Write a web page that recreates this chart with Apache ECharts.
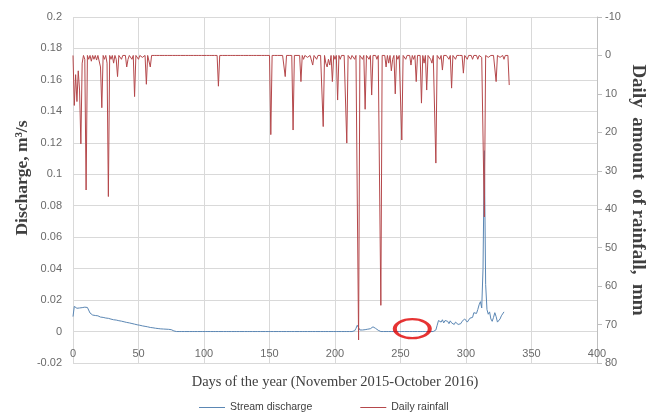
<!DOCTYPE html>
<html><head><meta charset="utf-8">
<script src="https://cdn.jsdelivr.net/npm/echarts@6/dist/echarts.min.js"></script>
<style>html,body{margin:0;padding:0;background:#fff}#c{width:660px;height:413px}</style>
</head><body><div id="c"></div>
<script>
// Daily rainfall (mm), day 0 .. 333 (index = day of the year)
const rainfall = [
  0, 13, 5, 12, 4, 9, 23, 2, 0, 1,          // 0
  35, 0, 1, 0, 1.5, 0, 1, 0, 1.2, 0,        // 10
  0.5, 3, 13.6, 0, 1, 0, 2, 36.7, 0, 1,     // 20
  0, 2, 0, 1, 5.5, 0, 0, 1, 0, 0.5,         // 30
  0, 3, 1, 0, 0, 1, 0, 10.7, 0, 0,          // 40
  1, 0, 0, 0.5, 0, 0, 7.5, 0, 0, 3,         // 50
  0, 0, 0, 0, 0, 0, 0, 0, 0, 0,             // 60
  0, 0, 0, 0, 0, 0, 0, 0, 0, 0,             // 70
  0, 0, 0, 0, 0, 0, 0, 0, 0, 0,             // 80
  0, 0, 0, 0, 0, 0, 0, 0, 0, 0,             // 90
  0, 0, 0, 0, 0, 0, 0, 0, 0, 0,             // 100
  0, 8, 0, 0, 0, 0, 0, 0, 0, 0,             // 110
  0, 0, 0, 0, 0, 0, 0, 0, 0, 0,             // 120
  0, 0, 0, 0, 0, 0, 0, 0, 0, 0,             // 130
  0, 0, 0, 0, 0, 0, 0, 0, 0, 0,             // 140
  0, 20.6, 0, 0, 0, 0, 0, 0, 0, 0,          // 150
  0, 0, 5.5, 0, 0, 0, 0, 0, 19.4, 0,        // 160
  0, 0, 0, 0, 6.8, 0, 1, 0, 0, 0.5,         // 170
  0.5, 0, 0, 2.5, 0, 0, 1, 0, 0, 0,         // 180
  0.5, 18.5, 0, 2, 3, 1, 2.5, 0, 6.8, 0,    // 190
  1, 0, 11.6, 0, 1, 0, 0.5, 0, 0, 22.8,     // 200
  0, 0, 1, 0, 0, 1, 0, 0, 74, 0,            // 210
  0, 1, 0, 14, 0, 0, 1, 0, 10.3, 0,         // 220
  0, 0, 1, 0, 0, 65, 0, 0, 0, 3,            // 230
  0, 2, 0, 4, 1, 0, 10, 0, 1, 0,            // 240
  0, 22, 0, 0, 1, 0, 0.5, 0, 2.5, 0,        // 250
  1, 0, 6.8, 0, 0, 0, 12.4, 0, 2, 0,        // 260
  9, 0, 0, 1, 2, 0, 0, 28, 0, 0,            // 270
  1, 0, 3.8, 0, 0.5, 0, 0, 1, 0, 8.5,       // 280
  0, 0, 1, 0, 0.5, 0, 0, 0, 4.6, 0,         // 290
  0, 1, 0, 0.5, 0, 1, 0, 0.5, 0, 1,         // 300
  0, 0, 0.5, 0, 42, 0, 0, 0.5, 0, 0,        // 310
  0, 0, 0, 6.8, 0, 0, 0.5, 0, 0, 1,         // 320
  0, 0, 0, 7.7                              // 330
];

// Stream discharge (m3/s), day 0 .. 329
const discharge = [
  0.0095, 0.016, 0.0152, 0.0148, 0.0155, 0.015, 0.0145, 0.0152, 0.0148, 0.0155,   // 0
  0.015, 0.0153, 0.0157, 0.0118, 0.011, 0.0105, 0.0108, 0.0102, 0.0098, 0.01,     // 10
  0.0095, 0.0092, 0.0096, 0.009, 0.0088, 0.0086, 0.0089, 0.0084, 0.0082, 0.0079,  // 20
  0.0078, 0.0075, 0.0077, 0.0073, 0.0071, 0.0069, 0.0068, 0.0066, 0.0064, 0.0062, // 30
  0.006, 0.0058, 0.0059, 0.0055, 0.0053, 0.0051, 0.0049, 0.0047, 0.0045, 0.0043,  // 40
  0.0042, 0.004, 0.0038, 0.0036, 0.0034, 0.0033, 0.0031, 0.003, 0.0028, 0.0026,   // 50
  0.0025, 0.0024, 0.0022, 0.0021, 0.002, 0.0019, 0.0018, 0.0017, 0.0016, 0.0016,  // 60
  0.0015, 0.0015, 0.0014, 0.0014, 0.0013, 0.0012, 0.0011, 0.0004, 0, 0,           // 70
  0, 0, 0, 0, 0, 0, 0, 0, 0, 0,   // 80
  0, 0, 0, 0, 0, 0, 0, 0, 0, 0,   // 90
  0, 0, 0, 0, 0, 0, 0, 0, 0, 0,   // 100
  0, 0, 0, 0, 0, 0, 0, 0, 0, 0,   // 110
  0, 0, 0, 0, 0, 0, 0, 0, 0, 0,   // 120
  0, 0, 0, 0, 0, 0, 0, 0, 0, 0,   // 130
  0, 0, 0, 0, 0, 0, 0, 0, 0, 0,   // 140
  0, 0, 0, 0, 0, 0, 0, 0, 0, 0,   // 150
  0, 0, 0, 0, 0, 0, 0, 0, 0, 0,   // 160
  0, 0, 0, 0, 0, 0, 0, 0, 0, 0,   // 170
  0, 0, 0, 0, 0, 0, 0, 0, 0, 0,   // 180
  0, 0, 0, 0, 0, 0, 0, 0, 0, 0,   // 190
  0, 0, 0, 0, 0, 0, 0, 0, 0, 0,   // 200
  0, 0, 0, 0, 0, 0.0005, 0.002, 0.004, 0.003, 0.001,                              // 210
  0.0012, 0.001, 0.0015, 0.0012, 0.001, 0.0015, 0.002, 0.0018, 0.0025, 0.003,     // 220
  0.0033, 0.002, 0.0012, 0.0008, 0.0005, 0, 0, 0, 0, 0,                           // 230
  0, 0, 0, 0, 0, 0, 0, 0, 0, 0,   // 240
  0, 0, 0, 0, 0, 0, 0, 0, 0, 0,   // 250
  0, 0, 0, 0, 0, 0, 0, 0, 0, 0,   // 260
  0, 0, 0, 0, 0, 0, 0, 0.001, 0.004, 0.007,                                       // 270
  0.008, 0.006, 0.0075, 0.0055, 0.007, 0.006, 0.0065, 0.005, 0.0068, 0.0055,      // 280
  0.005, 0.0045, 0.006, 0.005, 0.0045, 0.004, 0.005, 0.0065, 0.006, 0.008,        // 290
  0.0075, 0.006, 0.0068, 0.0085, 0.0075, 0.009, 0.012, 0.013, 0.0115, 0.014,      // 300
  0.017, 0.019, 0.015, 0.04, 0.115, 0.03, 0.014, 0.011, 0.0125, 0.008,            // 310
  0.0065, 0.009, 0.012, 0.0095, 0.006, 0.0055, 0.008, 0.01, 0.011, 0.0125         // 320
];

// Highlighted (circled) zero-flow period: [day, discharge]
const highlight = [259, 0.0018];

const seriesNames = ['Stream discharge', 'Daily rainfall'];
const seriesColors = ['#5b87b4', '#b5484b'];
const xTitle = 'Days of the year (November 2015-October 2016)';
const yLeftTitle = 'Discharge, m\u00b3/s';
const yRightTitle = 'Daily  amount  of rainfall,  mm';

const chart = echarts.init(document.getElementById('c'), null, {renderer: 'canvas'});
const labelStyle = {color: '#6a6a6a', fontSize: 11, fontFamily: 'Liberation Sans'};
const serif = 'Liberation Serif';

chart.setOption({
  animation: false,
  backgroundColor: '#fff',
  grid: {left: 73, right: 63, top: 17, bottom: 50, containLabel: false, outerBoundsMode: 'none'},
  legend: {
    data: seriesNames.map((n, i) => ({name: n, itemStyle: {color: seriesColors[i]}})),
    top: 397, left: 194, itemGap: 48,
    icon: 'rect', itemWidth: 26, itemHeight: 1,
    textStyle: {fontSize: 10.5, color: '#404040', fontFamily: 'Liberation Sans'}
  },
  xAxis: {
    type: 'value', min: 0, max: 400, interval: 50, position: 'bottom',
    axisLine: {show: false, onZero: false},
    axisTick: {show: false},
    axisLabel: Object.assign({inside: true, margin: 4}, labelStyle),
    splitLine: {show: true, lineStyle: {color: '#d9d9d9'}},
    name: xTitle, nameLocation: 'middle', nameGap: 12, nameMoveOverlap: false,
    nameTextStyle: {color: '#404040', fontSize: 14.5, fontFamily: serif, verticalAlign: 'top'}
  },
  yAxis: [{
    type: 'value', min: -0.02, max: 0.2, interval: 0.02, position: 'left',
    axisLine: {show: false}, axisTick: {show: false},
    axisLabel: Object.assign({margin: 11, formatter: v => String(+v.toFixed(2))}, labelStyle),
    splitLine: {show: true, lineStyle: {color: '#d9d9d9'}},
    name: yLeftTitle, nameLocation: 'middle', nameGap: 42, nameRotate: 90, nameMoveOverlap: false,
    nameTextStyle: {color: '#404040', fontSize: 17.5, fontWeight: 'bold', fontFamily: serif,
      padding: [0, 0, 0, 24]}
  }, {
    type: 'value', min: -10, max: 80, interval: 10, inverse: true, position: 'right',
    axisLine: {show: true, lineStyle: {color: '#bfbfbf'}},
    axisTick: {show: true, length: 5, lineStyle: {color: '#bfbfbf'}},
    axisLabel: Object.assign({margin: 8}, labelStyle),
    splitLine: {show: false},
    name: yRightTitle, nameLocation: 'middle', nameGap: 31, nameRotate: -90, nameMoveOverlap: false,
    nameTextStyle: {color: '#404040', fontSize: 19, fontWeight: 'bold', fontFamily: serif}
  }],
  series: [{
    name: seriesNames[0], type: 'line', xAxisIndex: 0, yAxisIndex: 0,
    data: discharge.map((v, i) => [i, v]), symbol: 'none',
    lineStyle: {color: seriesColors[0], width: 1}, itemStyle: {color: seriesColors[0]}, z: 2
  }, {
    name: seriesNames[1], type: 'line', xAxisIndex: 0, yAxisIndex: 1,
    data: rainfall.map((v, i) => [i, v]), symbol: 'none',
    lineStyle: {color: seriesColors[1], width: 1}, itemStyle: {color: seriesColors[1]}, z: 3
  }, {
    type: 'scatter', xAxisIndex: 0, yAxisIndex: 0, silent: true,
    data: [highlight], symbol: 'circle', symbolSize: [35, 19],
    itemStyle: {color: 'rgba(0,0,0,0)', borderColor: '#e00000', borderWidth: 3}, z: 5
  }]
});
</script></body></html>
